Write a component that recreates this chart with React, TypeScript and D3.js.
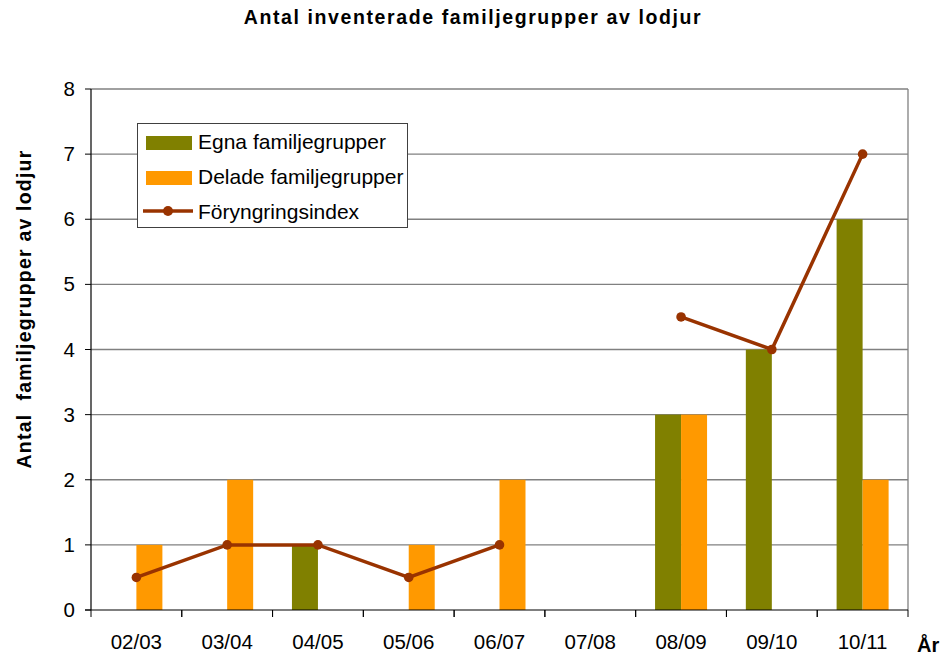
import React from "react";
import * as d3 from "d3";

const categories = ["02/03", "03/04", "04/05", "05/06", "06/07", "07/08", "08/09", "09/10", "10/11"];
const egna = [0, 0, 1, 0, 0, 0, 3, 4, 6];
const delade = [1, 2, 0, 1, 2, 0, 3, 0, 2];
const index: (number | null)[] = [0.5, 1, 1, 0.5, 1, null, 4.5, 4, 7];
const yTicks = [0, 1, 2, 3, 4, 5, 6, 7, 8];

export default function App() {
  const W = 942, H = 656;
  const left = 91, right = 908, top = 89, bottom = 610;
  const x = d3.scaleBand<string>().domain(categories).range([left, right]).paddingInner(0).paddingOuter(0);
  const y = d3.scaleLinear().domain([0, 8]).range([bottom, top]);
  const bw = 26;
  const font = "Arial, 'Liberation Sans', sans-serif";
  const line = d3
    .line<number | null>()
    .defined((d) => d !== null)
    .x((_, i) => (x(categories[i]) as number) + x.bandwidth() / 2)
    .y((d) => y(d as number));

  return (
    <svg width={W} height={H} style={{ position: "absolute", left: 0, top: 0 }} fontFamily={font}>
      <rect x={0} y={0} width={W} height={H} fill="#fff" />
      <text x={473} y={24} textAnchor="middle" fontWeight="bold" fontSize={19.5} letterSpacing={1.6}>
        Antal inventerade familjegrupper av lodjur
      </text>
      {/* grid */}
      {yTicks.filter((t) => t > 0).map((t) => (
        <line key={t} x1={left} x2={right} y1={y(t)} y2={y(t)} stroke="#808080" strokeWidth={1.3} />
      ))}
      <line x1={right} x2={right} y1={top} y2={bottom} stroke="#808080" strokeWidth={1.3} />
      {/* bars */}
      {categories.map((c, i) => {
        const cx = (x(c) as number) + x.bandwidth() / 2;
        return (
          <g key={c}>
            {egna[i] > 0 && (
              <rect x={cx - bw} y={y(egna[i])} width={bw} height={bottom - y(egna[i])} fill="#808000" />
            )}
            {delade[i] > 0 && (
              <rect x={cx} y={y(delade[i])} width={bw} height={bottom - y(delade[i])} fill="#FF9900" />
            )}
          </g>
        );
      })}
      {/* line */}
      <path d={line(index) || ""} fill="none" stroke="#993300" strokeWidth={3.5} />
      {index.map((d, i) =>
        d === null ? null : (
          <circle key={i} cx={(x(categories[i]) as number) + x.bandwidth() / 2} cy={y(d)} r={4.8} fill="#993300" />
        )
      )}
      {/* axes */}
      <line x1={left} x2={left} y1={top} y2={bottom} stroke="#000" strokeWidth={1.2} />
      <line x1={left - 6} x2={right} y1={bottom} y2={bottom} stroke="#000" strokeWidth={1.2} />
      {yTicks.map((t) => (
        <g key={t}>
          <line x1={left - 6} x2={left} y1={y(t)} y2={y(t)} stroke="#000" strokeWidth={1} />
          <text x={75} y={y(t) + 7} textAnchor="end" fontSize={20.5}>
            {t}
          </text>
        </g>
      ))}
      {categories.map((c, i) => (
        <g key={c}>
          <line x1={(x(c) as number) + x.bandwidth()} x2={(x(c) as number) + x.bandwidth()} y1={bottom} y2={bottom + 7} stroke="#000" strokeWidth={1} />
          <line x1={x(c) as number} x2={x(c) as number} y1={bottom} y2={bottom + 7} stroke="#000" strokeWidth={1} />
          <text x={(x(c) as number) + x.bandwidth() / 2} y={649} textAnchor="middle" fontSize={20.5}>
            {c}
          </text>
        </g>
      ))}
      <text x={917} y={652} textAnchor="start" fontWeight="bold" fontSize={20}>
        År
      </text>
      <text transform={`translate(31,309) rotate(-90)`} textAnchor="middle" fontWeight="bold" fontSize={19.5} letterSpacing={1.2} style={{ whiteSpace: "pre" }}>
        {"Antal  familjegrupper av lodjur"}
      </text>
      {/* legend */}
      <rect x={137.5} y={123.5} width={270} height={104} fill="#fff" stroke="#404040" strokeWidth={1} />
      <rect x={146} y={136} width={46} height={14} fill="#808000" />
      <text x={198} y={149} fontSize={21}>Egna familjegrupper</text>
      <rect x={146} y={171} width={46} height={14} fill="#FF9900" />
      <text x={198} y={184} fontSize={21}>Delade familjegrupper</text>
      <line x1={143} x2={193} y1={211} y2={211} stroke="#993300" strokeWidth={3.5} />
      <circle cx={168} cy={211} r={5} fill="#993300" />
      <text x={198} y={219} fontSize={21}>Föryngringsindex</text>
    </svg>
  );
}
